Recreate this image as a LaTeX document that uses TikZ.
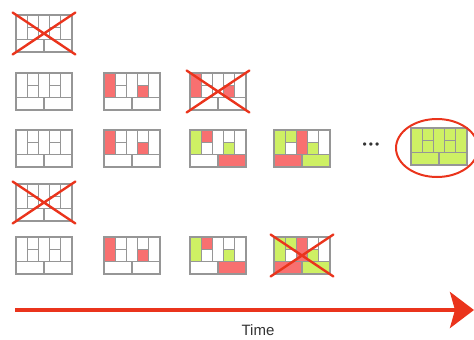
\documentclass[tikz,border=0pt]{standalone}
\usepackage{fontspec}
\setmainfont{Liberation Sans}
\usetikzlibrary{arrows.meta}

\definecolor{gridgray}{RGB}{150,150,150}
\definecolor{redcell}{RGB}{248,112,112}
\definecolor{greencell}{RGB}{206,240,100}
\definecolor{penred}{RGB}{234,52,28}

% one board, cells 5 wide and 3 high; #1 = drawn on top, #4 = cell fills
\newcommand{\board}[4][]{%
  \begin{scope}[shift={(#2,#3)}, x=11.2pt, y=-12.33pt]
    #4
    \draw[gridline] (0,0) rectangle (5,3) (0,2) -- (5,2) (2.5,2) -- (2.5,3)
      (1,1) -- (2,1) (3,1) -- (4,1);
    \foreach \c in {1,...,4} \draw[gridline] (\c,0) -- (\c,2);
    #1
  \end{scope}}
\newcommand{\crossout}{\draw[crossline] (-0.3,-0.2) -- (5.3,3.2) (5.3,-0.2) -- (-0.3,3.2);}
\newcommand{\pickone}{\fill[redfill] (0,0) rectangle (1,2); \fill[redfill] (3,1) rectangle (4,2);}
\newcommand{\picktwo}{\fill[greenfill] (0,0) rectangle (1,2); \fill[redfill] (1,0) rectangle (2,1);
  \fill[greenfill] (3,1) rectangle (4,2); \fill[redfill] (2.5,2) rectangle (5,3);}
\newcommand{\pickthree}{\fill[greenfill] (0,0) rectangle (1,2); \fill[greenfill] (1,0) rectangle (2,1);
  \fill[redfill] (2,0) rectangle (3,2); \fill[greenfill] (3,1) rectangle (4,2);
  \fill[redfill] (0,2) rectangle (2.5,3); \fill[greenfill] (2.5,2) rectangle (5,3);}
\newcommand{\fullboard}{\fill[greenfill] (0,0) rectangle (5,3);}

\begin{document}
\begin{tikzpicture}[
    x=1pt, y=-1pt,
    gridline/.style={draw=gridgray, line width=1.2pt},
    redfill/.style={fill=redcell},
    greenfill/.style={fill=greencell},
    crossline/.style={draw=penred, line width=2.4pt, line cap=round},
    timearrow/.style={draw=penred, line width=4pt, -{Stealth[length=24pt, width=36pt, inset=5pt]}},
    every node/.style={font=\fontsize{15}{18}\selectfont, text=black!80}
  ]
  \useasboundingbox (0,0) rectangle (474,340);

  % row 1
  \board[\crossout]{16}{15}{}
  % row 2
  \board{16}{73}{}
  \board{104}{73}{\pickone}
  \board[\crossout]{190}{73}{\pickone}
  % row 3
  \board{16}{130}{}
  \board{104}{130}{\pickone}
  \board{190}{130}{\picktwo}
  \board{274}{130}{\pickthree}
  \node (dots) at (371,146) {\fontsize{12}{12}\selectfont\textbullet\hspace{2pt}\textbullet\hspace{2pt}\textbullet};
  \board{411}{128}{\fullboard}
  \draw[draw=penred, line width=2pt] (437,148) ellipse [x radius=41, y radius=29];
  % row 4
  \board[\crossout]{16}{184}{}
  % row 5
  \board{16}{237}{}
  \board{104}{237}{\pickone}
  \board{190}{237}{\picktwo}
  \board[\crossout]{274}{237}{\pickthree}

  % time axis
  \coordinate (start) at (15,310);
  \coordinate (end) at (474,310);
  \draw[timearrow] (start) -- (end);
  \node (time) at (258,330) {Time};
\end{tikzpicture}
\end{document}
